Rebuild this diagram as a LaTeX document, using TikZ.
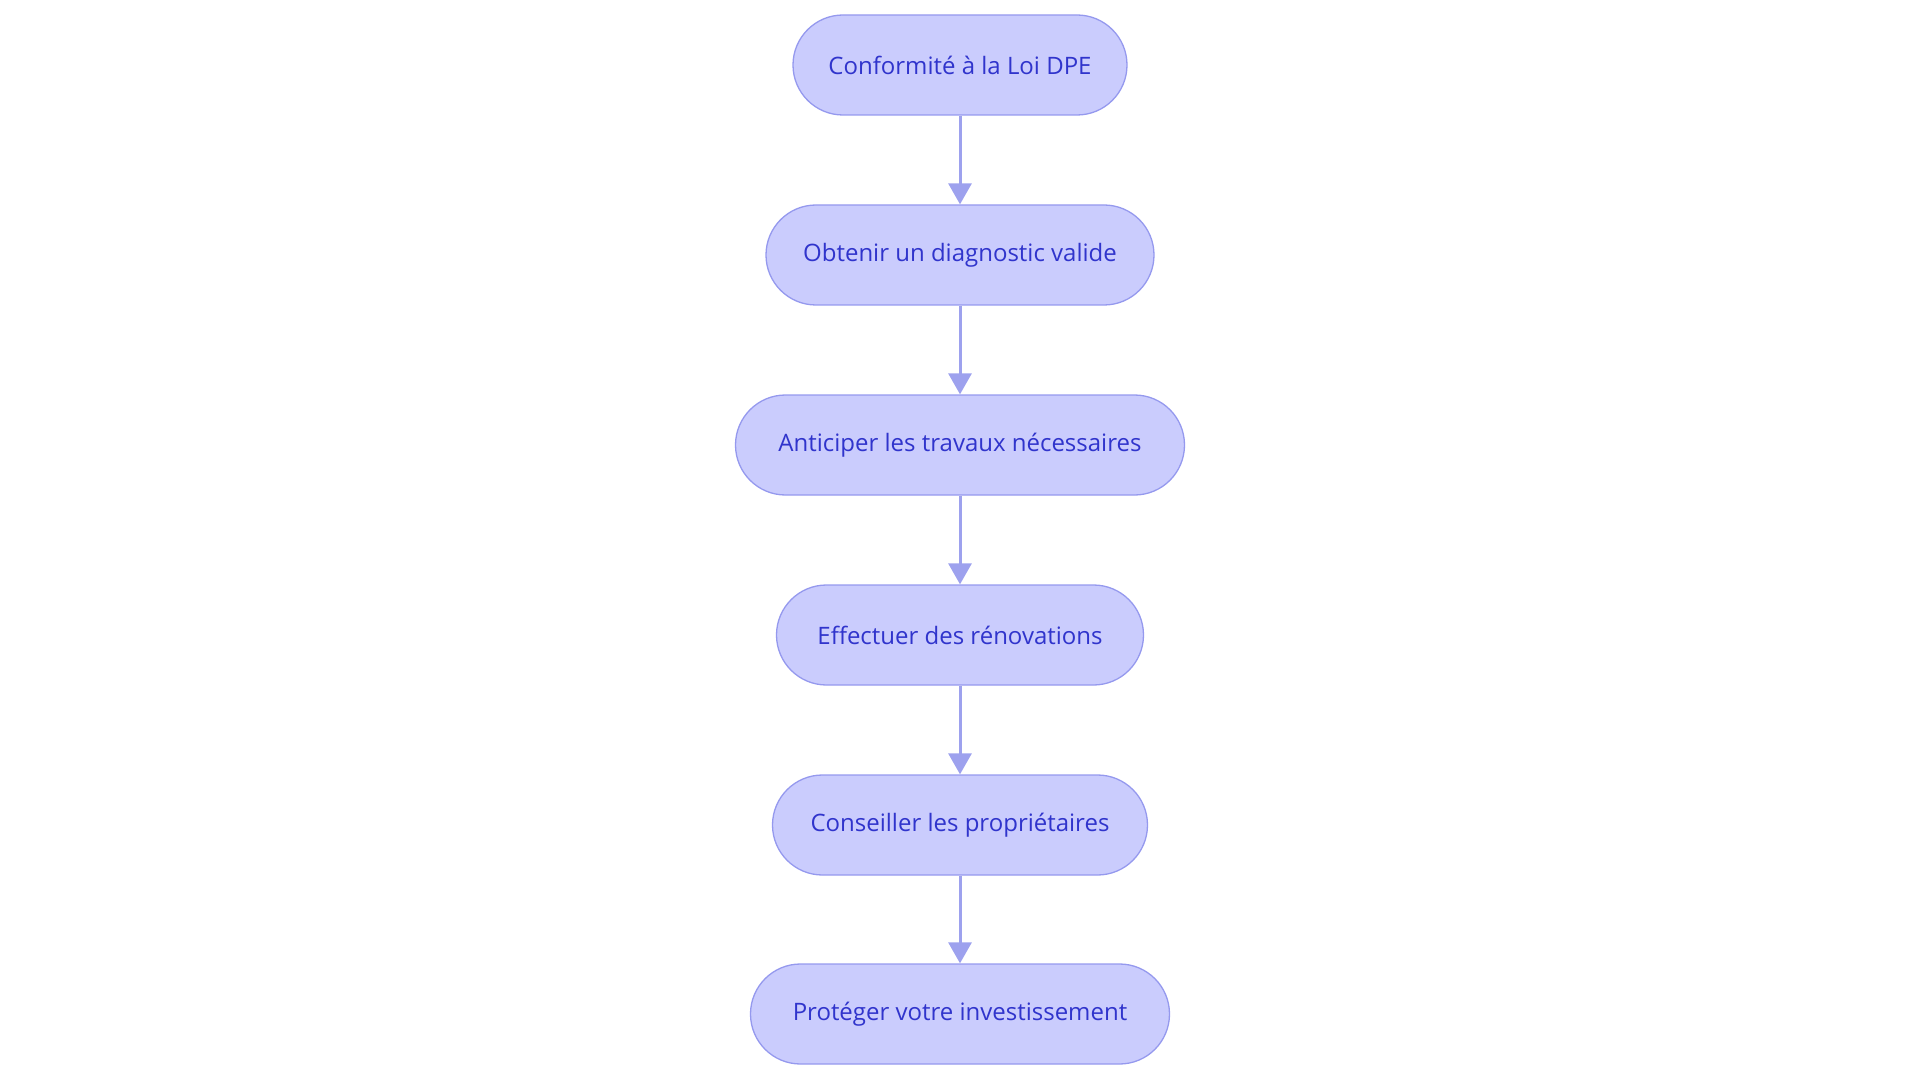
\documentclass[tikz,border=0pt]{standalone}
\usepackage{fontspec}
\setmainfont{Open Sans}
\definecolor{cajafondo}{HTML}{CACCFD}
\definecolor{cajaborde}{HTML}{9599EE}
\definecolor{cajatexto}{HTML}{3034CC}
\definecolor{flecha}{HTML}{9DA1EE}
\usetikzlibrary{arrows.meta}
\tikzset{
	etapa/.style={draw=cajaborde, fill=cajafondo, line width=1.3pt, rounded corners=50pt, minimum height=100pt, text=cajatexto, font=\fontsize{24}{29}\selectfont, inner sep=0pt},
	paso/.style={-{Triangle[length=21pt,width=23pt]}, draw=flecha, line width=3pt}
}
\begin{document}
\begin{tikzpicture}[x=1pt,y=-1pt]
	\useasboundingbox (0,0) rectangle (1920,1083);
	% Etapas
		\node[etapa, minimum width=334pt] (e1) at (960,65) {Conformité à la Loi DPE};
		\node[etapa, minimum width=388pt] (e2) at (960,255) {Obtenir un diagnostic valide};
		\node[etapa, minimum width=449pt] (e3) at (960,445) {Anticiper les travaux nécessaires};
		\node[etapa, minimum width=367pt] (e4) at (960,635) {Effectuer des rénovations};
		\node[etapa, minimum width=375pt] (e5) at (960,825) {Conseiller les propriétaires};
		\node[etapa, minimum width=419pt] (e6) at (960,1014) {Protéger votre investissement};
	% Flechas
		\foreach \a/\b in {e1/e2,e2/e3,e3/e4,e4/e5,e5/e6}
			\draw[paso] (\a) -- (\b);
\end{tikzpicture}
\end{document}
